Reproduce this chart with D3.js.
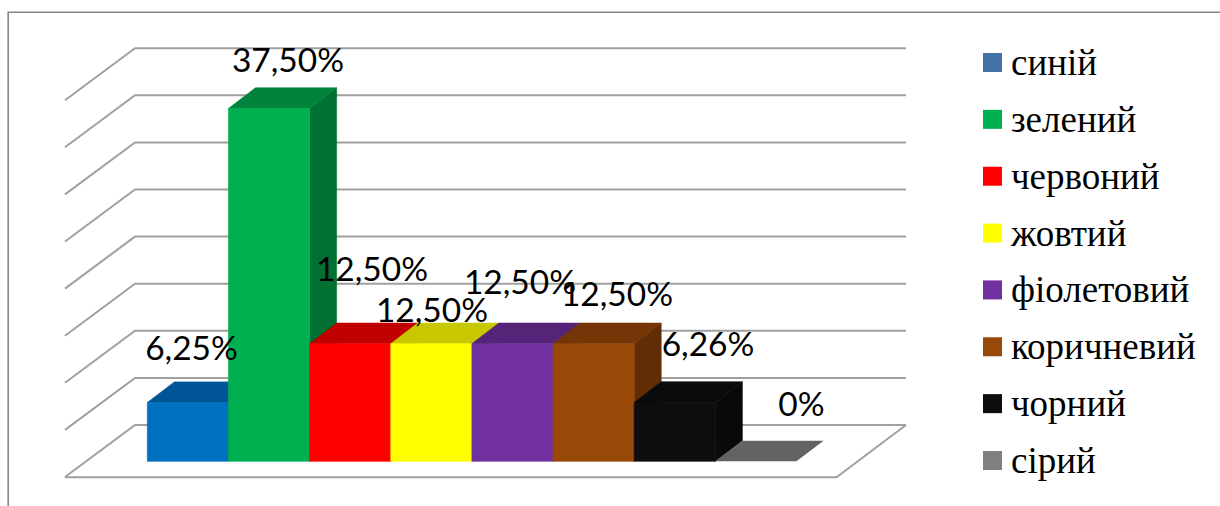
<!DOCTYPE html>
<html><head><meta charset="utf-8">
<style>html,body{margin:0;padding:0;background:#fff;overflow:hidden}svg{display:block}</style>
<script src="https://cdn.jsdelivr.net/npm/d3@7/dist/d3.min.js"></script>
</head><body><svg id="c" width="1220" height="506"></svg>
<script>
const categories=["синій","зелений","червоний","жовтий","фіолетовий","коричневий","чорний","сірий"];
const values=[6.25,37.5,12.5,12.5,12.5,12.5,6.26,0];
const labels=["6,25%","37,50%","12,50%","12,50%","12,50%","12,50%","6,26%","0%"];
const frontColors=["#0070c0","#00b050","#ff0000","#ffff00","#7030a0","#984807","#0d0d0d","#7f7f7f"];
const topColors=["#005596","#00843c","#c00000","#c8c800","#542478","#743606","#0b0b0b","#636363"];
const sideColors=["#00487f","#007033","#a80000","#a8a800","#471e66","#602d05","#090909","#545454"];
const legendColors=["#4472a8","#00b050","#ff0000","#ffff00","#7030a0","#984807","#0d0d0d","#7f7f7f"];
const labelPos=[[191.5,360],[288,72],[372,281],[432,322],[520,294],[617,306],[708,356],[801.5,416]];
const gridTicks=d3.range(0,45,5);

const svg=d3.select("#c");
const y=d3.scaleLinear().domain([0,40]).range([461.3,84.9]);
const x=d3.scaleBand().domain(categories).range([147.3,796.5]).padding(0);
const dx=27,dy=-20.6;
const wallY=d3.scaleLinear().domain([0,40]).range([425,48.2]);

// frame
svg.append("path").attr("d","M8.2,506V12.2H1220").attr("fill","none").attr("stroke","#868686").attr("stroke-width",1.6);

// walls
const grid=svg.append("g").attr("fill","none").attr("stroke","#a0a0a0").attr("stroke-width",2);
gridTicks.forEach(t=>{
  const yy=wallY(t);
  grid.append("path").attr("d",`M65,${yy+52}L135,${yy}H906`);
});
grid.append("path").attr("d","M65,477.3H836.5L906,425");

// bars: each face gets a hairline of its own colour so no pale seam shows between faces
const bars=svg.append("g").attr("stroke-width",0.6).attr("stroke-linejoin","round");
categories.forEach((c,i)=>{
  const x0=x(c),w=x.bandwidth(),y0=y(0),y1=y(values[i]);
  const g=bars.append("g");
  if(values[i]>0){
    g.append("path").attr("fill",sideColors[i]).attr("stroke",sideColors[i]).attr("d",`M${x0+w},${y1}L${x0+w+dx},${y1+dy}V${y0+dy}L${x0+w},${y0}Z`);
    g.append("path").attr("fill",topColors[i]).attr("stroke",topColors[i]).attr("d",`M${x0},${y1}l${dx},${dy}h${w}l${-dx},${-dy}Z`);
    g.append("rect").attr("x",x0).attr("y",y1).attr("width",w).attr("height",y0-y1).attr("fill",frontColors[i]).attr("stroke",frontColors[i]);
  } else {
    g.append("path").attr("fill",topColors[i]).attr("d",`M${x0},${y1}l${dx},${dy}h${w}l${-dx},${-dy}Z`);
  }
});

// labels
const lab=svg.append("g").attr("font-family","Lato, 'Open Sans', sans-serif").attr("font-size",33.5).attr("fill","#000").attr("text-anchor","middle");
labels.forEach((t,i)=>lab.append("text").attr("x",labelPos[i][0]).attr("y",labelPos[i][1]).text(t));

// legend
const ly=d3.scalePoint().domain(categories).range([62.5,460.5]);
const leg=svg.append("g");
categories.forEach((c,i)=>{
  leg.append("rect").attr("x",983).attr("y",ly(c)-9.5).attr("width",19).attr("height",19).attr("fill",legendColors[i]);
  leg.append("text").attr("x",1011).attr("y",ly(c)+12.5).attr("font-family","'Liberation Serif', serif").attr("font-size",37).attr("fill","#000").text(c);
});
</script></body></html>
